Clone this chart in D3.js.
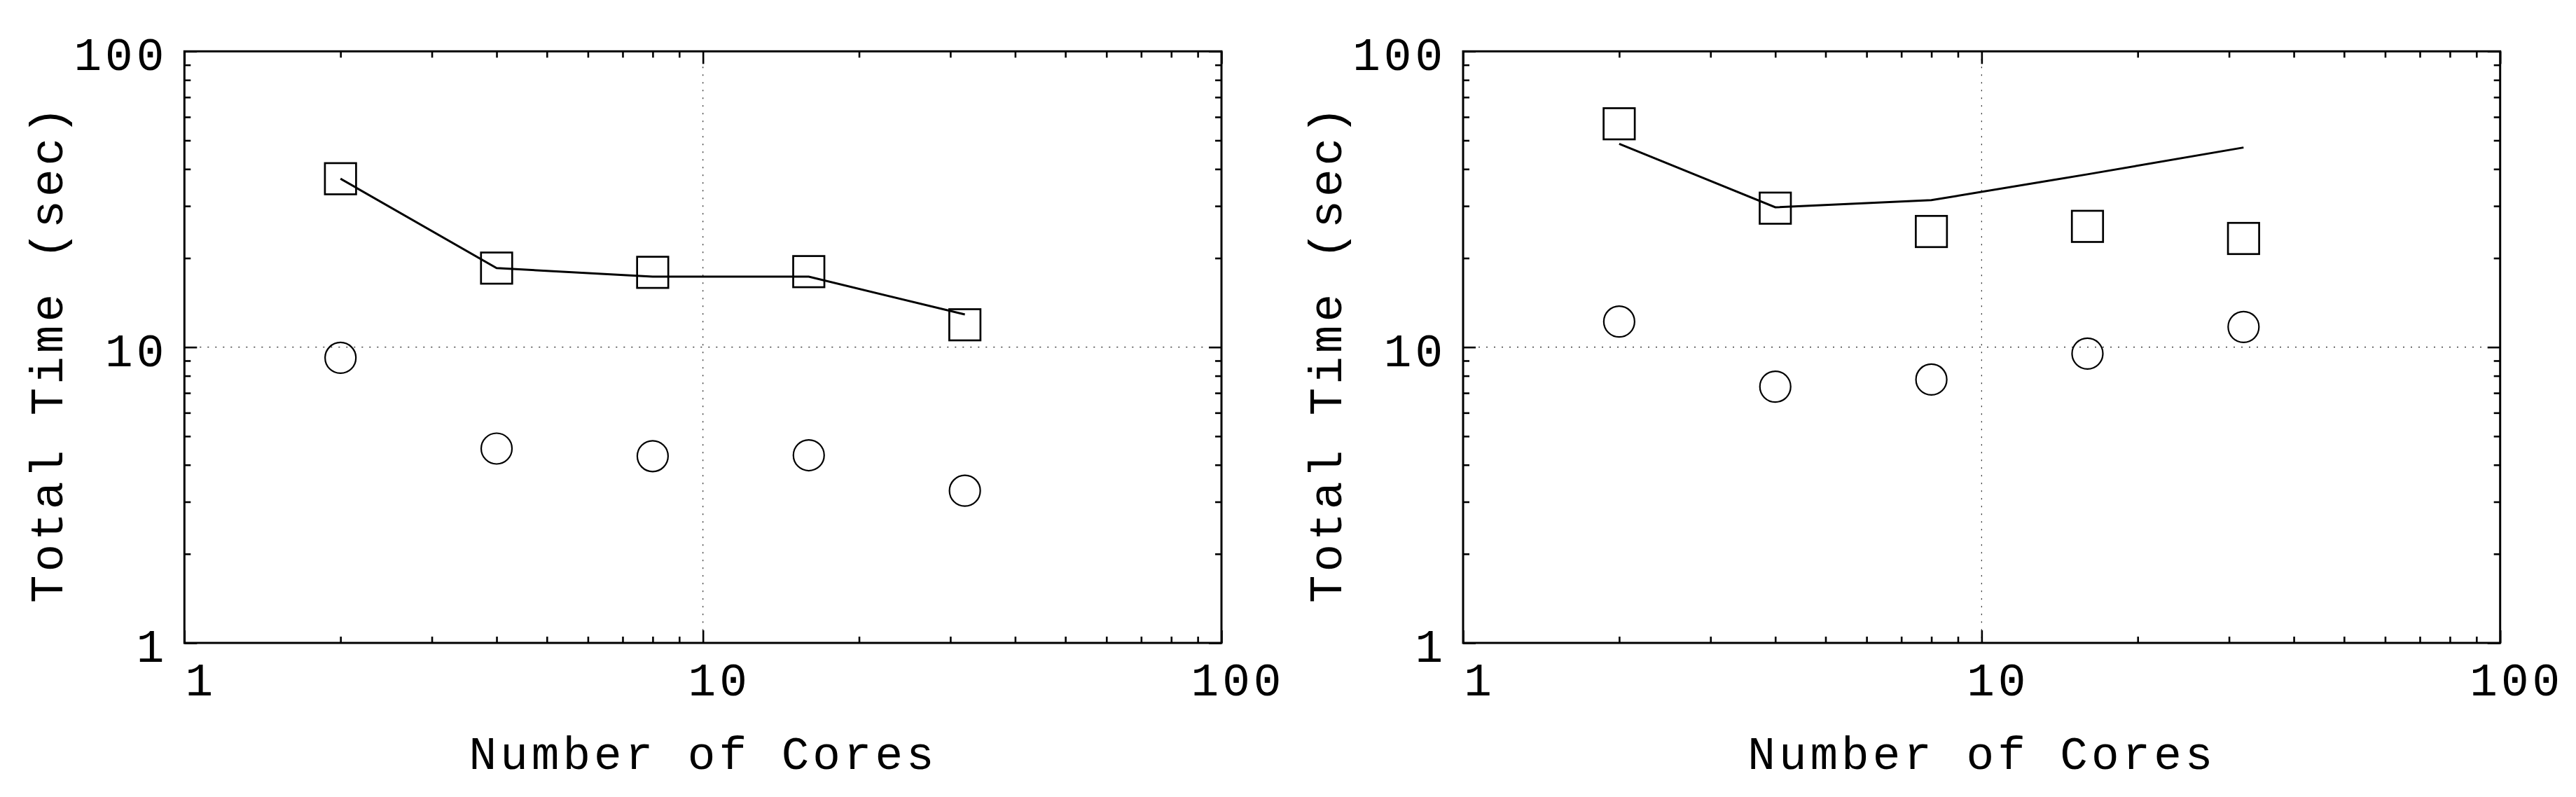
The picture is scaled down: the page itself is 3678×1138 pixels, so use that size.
<!DOCTYPE html>
<html>
<head>
<meta charset="utf-8">
<script src="https://cdn.jsdelivr.net/npm/d3@7"></script>
<style>
  html, body { margin: 0; padding: 0; background: #fff; }
  svg { display: block; }
  text { font-family: "Liberation Mono", "DejaVu Sans Mono", monospace; fill: #000; }
</style>
</head>
<body>
<svg id="chart" width="3678" height="1138"></svg>
<script>
// ---- data ----
const cores = [2, 4, 8, 16, 32];
const axisTicks = [1, 10, 100];
const axisTickLabels = ["1", "10", "100"];
const minorTicks = [2, 3, 4, 5, 6, 7, 8, 9, 20, 30, 40, 50, 60, 70, 80, 90];
const xTitle = "Number of Cores";
const yTitle = "Total Time (sec)";

const leftSquares = [37.1, 18.5, 17.9, 18.0, 11.9];
const leftLine    = [37.1, 18.5, 17.3, 17.3, 12.9];
const leftCircles = [9.2, 4.54, 4.28, 4.31, 3.27];

const rightSquares = [56.9, 29.5, 24.6, 25.6, 23.3];
const rightLine    = [48.7, 29.7, 31.4, 38.4, 47.3];
const rightCircles = [12.2, 7.35, 7.77, 9.51, 11.7];

// ---- layout ----
const svg = d3.select("#chart");
const panels = [
  { left: 263.3, squares: leftSquares, line: leftLine, circles: leftCircles },
  { left: 2089, squares: rightSquares, line: rightLine, circles: rightCircles }
];
const plotW = 1480.7, plotTop = 73.3, plotBottom = 918;
const FS = 66, LS = 5;

panels.forEach(p => {
  const x = d3.scaleLog().domain([1, 100]).range([p.left, p.left + plotW]);
  const y = d3.scaleLog().domain([1, 100]).range([plotBottom, plotTop]);
  const g = svg.append("g");

  // grid (dotted) at 10
  g.append("line").attr("x1", x(10)).attr("x2", x(10)).attr("y1", plotTop).attr("y2", plotBottom)
    .attr("stroke", "#222").attr("stroke-width", 1.2).attr("stroke-dasharray", "2,9");
  g.append("line").attr("x1", x(1)).attr("x2", x(100)).attr("y1", y(10)).attr("y2", y(10))
    .attr("stroke", "#222").attr("stroke-width", 1.2).attr("stroke-dasharray", "2,9");

  // ticks via d3 axes (inward, on all four sides)
  const addAxis = (axisGen, transform, vals, len) => {
    const a = g.append("g").attr("transform", transform)
      .call(axisGen.tickValues(vals).tickSize(-len).tickFormat(""));
    a.select(".domain").remove();
    a.selectAll(".tick line").attr("stroke", "#000").attr("stroke-width", 2.6);
  };
  [[axisTicks, 18], [minorTicks, 9]].forEach(([vals, len]) => {
    addAxis(d3.axisBottom(x), `translate(0,${plotBottom})`, vals, len);
    addAxis(d3.axisTop(x), `translate(0,${plotTop})`, vals, len);
    addAxis(d3.axisLeft(y), `translate(${x(1)},0)`, vals, len);
    addAxis(d3.axisRight(y), `translate(${x(100)},0)`, vals, len);
  });

  // frame
  g.append("rect").attr("x", x(1)).attr("y", plotTop).attr("width", x(100) - x(1)).attr("height", plotBottom - plotTop)
    .attr("fill", "none").attr("stroke", "#000").attr("stroke-width", 3);

  // tick labels
  g.selectAll(".xl").data(axisTicks).join("text")
    .attr("x", (d) => x(d) + 21 + LS / 2).attr("y", 993)
    .attr("text-anchor", "middle").attr("font-size", FS).attr("letter-spacing", LS)
    .text((d, i) => axisTickLabels[i]);
  g.selectAll(".yl").data(axisTicks).join("text")
    .attr("x", x(1) - 33 + LS + 4).attr("y", d => y(d) + 27)
    .attr("text-anchor", "end").attr("font-size", FS).attr("letter-spacing", LS)
    .text((d, i) => axisTickLabels[i]);

  // axis titles
  g.append("text").attr("x", (x(1) + x(100)) / 2 - 2 + LS / 2).attr("y", 1098)
    .attr("text-anchor", "middle").attr("font-size", FS).attr("letter-spacing", LS).text(xTitle);
  g.append("text").attr("transform", `translate(${x(1) - 174},${(plotTop + plotBottom) / 2 + 6 + LS / 2}) rotate(-90)`)
    .attr("text-anchor", "middle").attr("font-size", FS).attr("letter-spacing", LS).text(yTitle);

  // line series
  const lineGen = d3.line().x((d, i) => x(cores[i])).y(d => y(d));
  g.append("path").datum(p.line).attr("d", lineGen)
    .attr("fill", "none").attr("stroke", "#000").attr("stroke-width", 3).attr("stroke-linejoin", "miter");

  // squares
  const S = 44.5;
  g.selectAll(".sq").data(p.squares).join("rect")
    .attr("x", (d, i) => x(cores[i]) - S / 2).attr("y", d => y(d) - S / 2)
    .attr("width", S).attr("height", S)
    .attr("fill", "none").attr("stroke", "#000").attr("stroke-width", 2.7);

  // circles
  g.selectAll(".ci").data(p.circles).join("circle")
    .attr("cx", (d, i) => x(cores[i])).attr("cy", d => y(d)).attr("r", 22)
    .attr("fill", "none").attr("stroke", "#000").attr("stroke-width", 2.2);
});
</script>
</body>
</html>
